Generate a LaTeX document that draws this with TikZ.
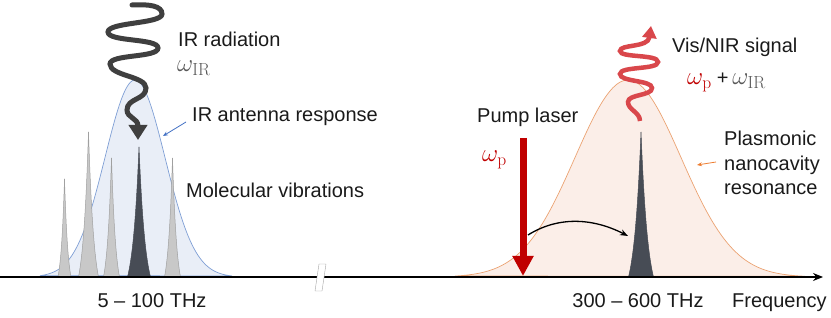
\documentclass[tikz,border=0pt]{standalone}
\usepackage{fontspec}
\newfontfamily\arialf{Liberation Sans}
\usetikzlibrary{arrows.meta}
\definecolor{irfill}{HTML}{E9EEF7}
\definecolor{irline}{HTML}{7F9FD5}
\definecolor{plfill}{HTML}{FBEEE8}
\definecolor{plline}{HTML}{EBA271}
\definecolor{peakgray}{HTML}{C8C8C8}
\definecolor{peakedge}{HTML}{A0A0A0}
\definecolor{peakdark}{HTML}{474C55}
\definecolor{wavegray}{HTML}{3F3F3F}
\definecolor{wavered}{HTML}{D9474B}
\definecolor{pumpred}{HTML}{C00000}
\definecolor{omgray}{HTML}{595959}
\definecolor{bluearr}{HTML}{4472C4}
\definecolor{orangearr}{HTML}{ED7D31}
\definecolor{txt}{HTML}{1A1A1A}
% k = 1.8, exp(-1.8)=0.1653
\newcommand\vibpeak[5]{%
  \path[fill=#4,draw=#5,line width=0.5pt]
    plot[domain=-#2:0,samples=30] ({#1+\x},{277-(277-#3)*(exp(1.8*\x/#2)-0.1653)/0.8347})
    -- plot[domain=0:#2,samples=30] ({#1+\x},{277-(277-#3)*(exp(-1.8*\x/#2)-0.1653)/0.8347})
    -- cycle;}
\tikzset{
  lbl/.style={font=\arialf\fontsize{20}{24}\selectfont, text=txt, inner sep=0pt, anchor=base west},
  mlbl/.style={font=\fontsize{25}{30}\selectfont, inner sep=0pt, anchor=base west},
}
\begin{document}
\begin{tikzpicture}[x=1pt,y=-1pt]
\useasboundingbox (0,0) rectangle (831,318);
% Gaussians
\path[fill=irfill,draw=irline,line width=0.7pt]
  plot[domain=40:232,samples=120] (\x,{277-197*exp(-((\x-135)/30)^2/2)}) -- cycle;
\path[fill=plfill,draw=plline,line width=0.7pt]
  plot[domain=455:805,samples=150] (\x,{277-197*exp(-((\x-628)/53)^2/2)}) -- cycle;
% vibration peaks
\vibpeak{64.5}{6.5}{179}{peakgray}{peakedge}
\vibpeak{88.5}{10}{132}{peakgray}{peakedge}
\vibpeak{111.5}{8}{158}{peakgray}{peakedge}
\vibpeak{172.5}{8}{158}{peakgray}{peakedge}
\vibpeak{139}{11.5}{147}{peakdark}{peakdark}
\vibpeak{641}{12.5}{132}{peakdark}{peakdark}
% axis
\coordinate (axL) at (0,277);
\coordinate (axR) at (823,277);
\draw[line width=1.3pt,-{Stealth[length=10pt,width=8pt]}] (axL) -- (axR);
\filldraw[fill=white,draw=gray!70,line width=0.4pt] (319,264) -- (326,264) -- (322,291) -- (315,291) -- cycle;
% IR wave
\coordinate (irS) at (132,5);
\coordinate (irE) at (138,140);
\draw[wavegray,line width=5pt,line cap=round,-{Triangle[length=15pt,width=18pt]}]
  (irS) .. controls (150,4) and (162,6) .. (162,14)
  .. controls (162,24) and (108,22) .. (108,32)
  .. controls (108,42) and (158,38) .. (158,48)
  .. controls (158,58) and (110,54) .. (110,64)
  .. controls (110,76) and (146,76) .. (146,88)
  .. controls (146,100) and (127,98) .. (127,110)
  .. controls (127,118) and (138,118) .. (irE);
% red wave
\coordinate (rdS) at (640,121);
\coordinate (rdE) at (651,26);
\draw[wavered,line width=4.5pt,-{Triangle[length=12pt,width=14pt]}]
  (rdS) .. controls (640,112) and (628,110) .. (628,102)
  .. controls (628,94) and (652,96) .. (652,88)
  .. controls (652,80) and (620,82) .. (620,74)
  .. controls (620,66) and (658,70) .. (658,62)
  .. controls (658,54) and (620,58) .. (620,51)
  .. controls (620,44) and (648,48) .. (rdE);
% pump laser arrow
\coordinate (pS) at (523,138);
\coordinate (pE) at (523,276);
\draw[pumpred,line width=7pt,-{Triangle[length=20pt,width=20pt]}] (pS) -- (pE);
% curved black arrow
\coordinate (cS) at (528,235);
\coordinate (cE) at (628,236);
\draw[line width=1.3pt,-{Stealth[length=8pt,width=6pt]}] (cS) .. controls (560,215) and (595,219) .. (cE);
% labels
\node[lbl] (irrad) at (178,47) {IR radiation};
\node[mlbl,text=omgray] (omir) at (177,72) {$\omega_{\mathrm{IR}}$};
\node[lbl] (irant) at (192,122) {IR antenna response};
\node[lbl] (molvib) at (186,198) {Molecular vibrations};
\node[lbl,anchor=base] (rng1) at (152,307) {5 – 100 THz};
\node[lbl,anchor=base] (rng2) at (638,307) {300 – 600 THz};
\node[lbl] (freq) at (732,307) {Frequency};
\node[lbl] (pump) at (477,123) {Pump laser};
\node[mlbl,text=pumpred] (omp) at (482,162) {$\omega_{\mathrm{p}}$};
\node[lbl] (visnir) at (672,53) {Vis/NIR signal};
\node[mlbl] (sum) at (687,85) {\textcolor{pumpred}{$\omega_{\mathrm{p}}$}\hspace{5pt}{\arialf\fontsize{20}{24}\selectfont\textcolor{txt}{+}}\hspace{4pt}\textcolor{omgray}{$\omega_{\mathrm{IR}}$}};
\node[lbl,align=left,anchor=north west,font=\arialf\fontsize{20}{24.5}\selectfont] (plas) at (724,131) {Plasmonic\\nanocavity\\resonance};
% pointers
\coordinate (bpS) at (186,122);
\coordinate (bpE) at (163,136);
\draw[bluearr,line width=0.8pt,-{Stealth[length=5pt,width=4pt]}] (bpS) -- (bpE);
\coordinate (opS) at (716,162);
\coordinate (opE) at (697,165);
\draw[orangearr,line width=0.8pt,-{Stealth[length=5pt,width=4pt]}] (opS) -- (opE);
\end{tikzpicture}
\end{document}
